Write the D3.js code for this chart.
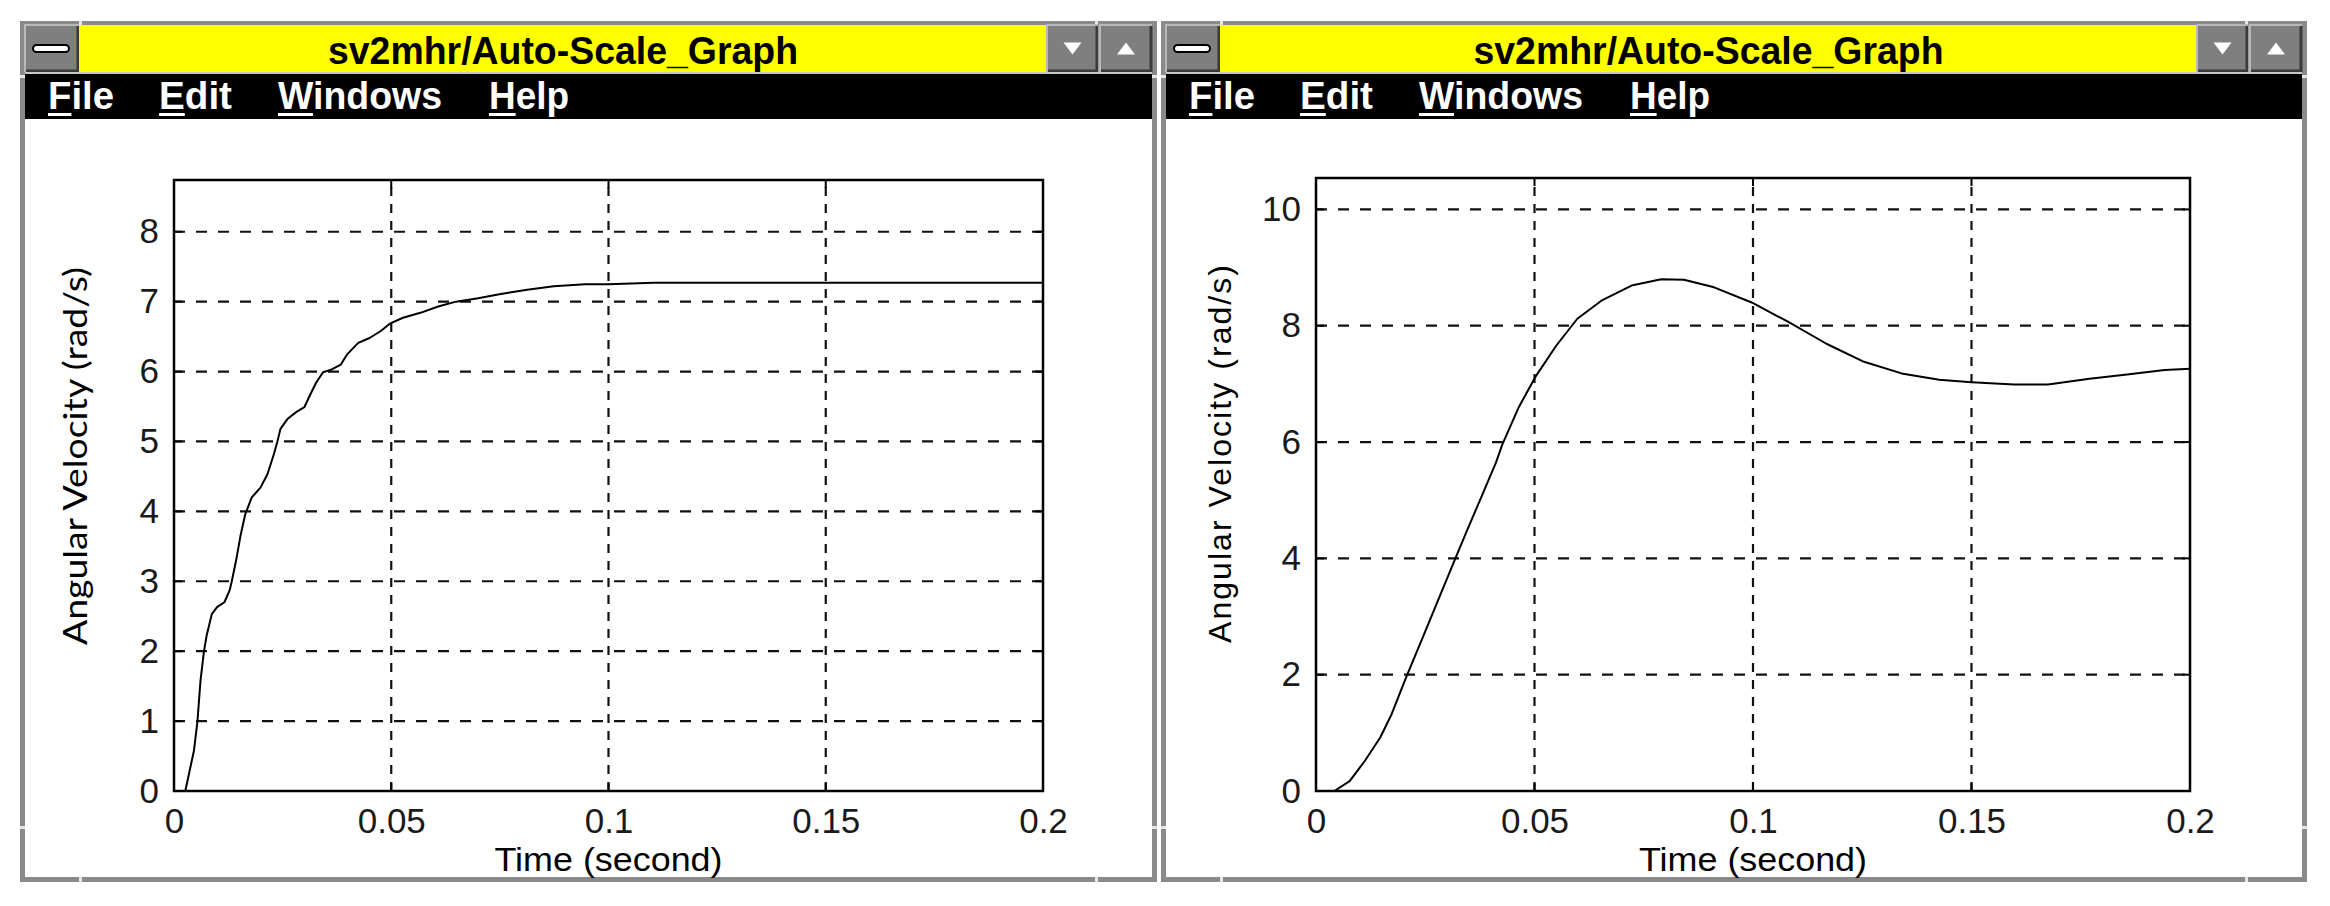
<!DOCTYPE html>
<html><head><meta charset="utf-8">
<script src="https://cdn.jsdelivr.net/npm/d3@7"></script>
<style>
html,body{margin:0;padding:0;background:#fff;}
svg{display:block;}
</style></head><body>
<svg id="c" width="2330" height="906"></svg>
<script>
// ---------- data ----------
const windowTitle = "sv2mhr/Auto-Scale_Graph";
const menuItems = ["File", "Edit", "Windows", "Help"];
const xTicks = [0, 0.05, 0.1, 0.15, 0.2];
const xTickLabels = ["0", "0.05", "0.1", "0.15", "0.2"];
const leftYTicks = [0, 1, 2, 3, 4, 5, 6, 7, 8];
const rightYTicks = [0, 2, 4, 6, 8, 10];
const xLabel = "Time (second)";
const yLabel = "Angular Velocity (rad/s)";

const leftTime = [0.0026, 0.0046, 0.0054, 0.0061, 0.0069, 0.0075, 0.0087, 0.0099, 0.0116, 0.0128,
  0.0133, 0.0143, 0.0153, 0.0164, 0.0179, 0.0199, 0.0215, 0.0230, 0.0238, 0.0245,
  0.0261, 0.0281, 0.0300, 0.0312, 0.0327, 0.0343, 0.0363, 0.0384, 0.0399, 0.0424,
  0.0450, 0.0476, 0.0498, 0.0527, 0.0567, 0.0608, 0.0649, 0.0700, 0.0752, 0.0813,
  0.0874, 0.0946, 0.1000, 0.1104, 0.1500, 0.2000];
const leftOmega = [0, 0.58, 1.0, 1.58, 2.0, 2.22, 2.53, 2.63, 2.70, 2.87,
  3.0, 3.3, 3.65, 3.96, 4.2, 4.34, 4.53, 4.82, 5.0, 5.18,
  5.32, 5.42, 5.49, 5.65, 5.84, 5.99, 6.03, 6.1, 6.25, 6.41,
  6.48, 6.58, 6.69, 6.77, 6.84, 6.93, 7.0, 7.05, 7.11, 7.17,
  7.22, 7.25, 7.25, 7.27, 7.27, 7.27];

const rightTime = [0.0042, 0.0077, 0.0112, 0.0147, 0.0173, 0.0206, 0.0241, 0.0275, 0.0309, 0.0344,
  0.0378, 0.0412, 0.0426, 0.0464, 0.0502, 0.0550, 0.0598, 0.0653, 0.0722, 0.0790,
  0.0842, 0.0911, 0.0997, 0.1082, 0.1168, 0.1254, 0.1340, 0.1426, 0.1500, 0.1598,
  0.1675, 0.1770, 0.1856, 0.1942, 0.2000];
const rightOmega = [0, 0.17, 0.52, 0.92, 1.32, 1.95, 2.58, 3.2, 3.82, 4.45,
  5.05, 5.65, 5.95, 6.6, 7.12, 7.66, 8.12, 8.43, 8.69, 8.8,
  8.79, 8.66, 8.4, 8.06, 7.69, 7.38, 7.18, 7.07, 7.03, 6.99,
  6.99, 7.09, 7.16, 7.24, 7.26];

// ---------- layout ----------
const panels = [
  { x0: 20, x1: 1157, plot: { l: 174, r: 1043, t: 180, b: 791 }, yMax: 8.74, yTicks: leftYTicks,
    t: leftTime, w: leftOmega, ylab: { x: 74, y: 456, font: "Lato", size: 33, len: 378, adjust: "spacingAndGlyphs" } },
  { x0: 1161, x1: 2307, plot: { l: 1316, r: 2190, t: 178, b: 791 }, yMax: 10.54, yTicks: rightYTicks,
    t: rightTime, w: rightOmega, ylab: { x: 1220, y: 454, font: "Liberation Sans", size: 32, len: 378, adjust: "spacing" } }
];
const menuOffsets = [28, 139, 258, 469];
const menuLens = [66, 73, 164, 80];
const TOP = 21, BOT = 882;

const svg = d3.select("#c");
svg.append("rect").attr("width", 2330).attr("height", 906).attr("fill", "#fff");

function drawButton(g, x, y, w, h) {
  g.append("rect").attr("x", x).attr("y", y).attr("width", w).attr("height", h).attr("fill", "#7f7f7f");
  g.append("path").attr("d", `M${x},${y + h}V${y}H${x + w}`).attr("fill", "none").attr("stroke", "#b8b8b8").attr("stroke-width", 2);
  g.append("path").attr("d", `M${x + 1},${y + h - 1}H${x + w - 1}V${y + 1}`).attr("fill", "none").attr("stroke", "#3a3a3a").attr("stroke-width", 3);
}

panels.forEach(p => {
  const g = svg.append("g");
  const x0 = p.x0, x1 = p.x1;
  // frame
  g.append("rect").attr("x", x0 + 2.5).attr("y", TOP + 2.5).attr("width", x1 - x0 - 5).attr("height", BOT - TOP - 5)
    .attr("fill", "#fff").attr("stroke", "#8a8a8a").attr("stroke-width", 5);
  const notch = [[x0 + 59, TOP, 3, 5], [x1 - 62, TOP, 3, 5], [x0 + 59, BOT - 5, 3, 5], [x1 - 62, BOT - 5, 3, 5],
    [x0, TOP + 54, 5, 3], [x1 - 5, TOP + 54, 5, 3], [x0, BOT - 56, 5, 3], [x1 - 5, BOT - 56, 5, 3]];
  g.selectAll(".notch").data(notch).join("rect").attr("class", "notch")
    .attr("x", d => d[0]).attr("y", d => d[1]).attr("width", d => d[2]).attr("height", d => d[3]).attr("fill", "#e6e6e6");

  // title bar
  const tbY = 25, tbH = 47;
  drawButton(g, x0 + 5, tbY, 54, tbH);
  g.append("rect").attr("x", x0 + 13).attr("y", tbY + 20).attr("width", 36).attr("height", 7).attr("rx", 3.5)
    .attr("fill", "#fff").attr("stroke", "#000").attr("stroke-width", 2);
  g.append("rect").attr("x", x0 + 59).attr("y", tbY).attr("width", (x1 - 110) - (x0 + 59)).attr("height", tbH).attr("fill", "#ffff00");
  drawButton(g, x1 - 110, tbY, 51, tbH);
  drawButton(g, x1 - 57, tbY, 52, tbH);
  const dcx = x1 - 110 + 25.5, ucx = x1 - 57 + 26, tcy = tbY + tbH / 2;
  g.append("path").attr("d", `M${dcx - 9},${tcy - 6}H${dcx + 9}L${dcx},${tcy + 6}Z`).attr("fill", "#fff");
  g.append("path").attr("d", `M${ucx - 9},${tcy + 6}H${ucx + 9}L${ucx},${tcy - 6}Z`).attr("fill", "#fff");
  const tcx = ((x0 + 59) + (x1 - 110)) / 2;
  g.append("text").attr("x", tcx).attr("y", 64).attr("text-anchor", "middle")
    .attr("font-family", "Liberation Sans, Arial, sans-serif").attr("font-weight", "bold").attr("font-size", 38)
    .attr("textLength", 470).attr("lengthAdjust", "spacingAndGlyphs").attr("fill", "#000").text(windowTitle);
  // separator + menu bar
  g.append("rect").attr("x", x0 + 5).attr("y", 72).attr("width", x1 - x0 - 10).attr("height", 2).attr("fill", "#c8c8c8");
  g.append("rect").attr("x", x0 + 5).attr("y", 74).attr("width", x1 - x0 - 10).attr("height", 45).attr("fill", "#000");
  menuItems.forEach((m, i) => {
    const mx = x0 + menuOffsets[i];
    const t = g.append("text").attr("x", mx).attr("y", 109)
      .attr("font-family", "Liberation Sans, Arial, sans-serif").attr("font-weight", "bold").attr("font-size", 38)
      .attr("textLength", menuLens[i]).attr("lengthAdjust", "spacingAndGlyphs").attr("fill", "#fff").text(m);
    let fw = menuLens[i] * 0.3;
    try { fw = t.node().getSubStringLength(0, 1); } catch (e) {}
    g.append("rect").attr("x", mx).attr("y", 113).attr("width", fw).attr("height", 3).attr("fill", "#fff");
  });

  // ---------- chart ----------
  const x = d3.scaleLinear().domain([0, 0.2]).range([p.plot.l, p.plot.r]);
  const y = d3.scaleLinear().domain([0, p.yMax]).range([p.plot.b, p.plot.t]);

  g.selectAll(".hg").data(p.yTicks.filter(v => v > 0)).join("line").attr("class", "hg")
    .attr("x1", p.plot.l).attr("x2", p.plot.r).attr("y1", d => y(d)).attr("y2", d => y(d))
    .attr("stroke", "#111").attr("stroke-width", 2.2).attr("stroke-dasharray", "11,11");
  g.selectAll(".vg").data(xTicks.filter(v => v > 0 && v < 0.2)).join("line").attr("class", "vg")
    .attr("x1", d => x(d)).attr("x2", d => x(d)).attr("y1", p.plot.b).attr("y2", p.plot.t)
    .attr("stroke", "#111").attr("stroke-width", 2.2).attr("stroke-dasharray", "9,8");

  const tk = 8;
  g.selectAll(".tyl").data(p.yTicks).join("line").attr("class", "tyl")
    .attr("x1", p.plot.l).attr("x2", p.plot.l + tk).attr("y1", d => y(d)).attr("y2", d => y(d)).attr("stroke", "#000").attr("stroke-width", 2);
  g.selectAll(".tyr").data(p.yTicks).join("line").attr("class", "tyr")
    .attr("x1", p.plot.r).attr("x2", p.plot.r - tk).attr("y1", d => y(d)).attr("y2", d => y(d)).attr("stroke", "#000").attr("stroke-width", 2);
  g.selectAll(".txb").data(xTicks).join("line").attr("class", "txb")
    .attr("x1", d => x(d)).attr("x2", d => x(d)).attr("y1", p.plot.b).attr("y2", p.plot.b - tk).attr("stroke", "#000").attr("stroke-width", 2);
  g.selectAll(".txt").data(xTicks).join("line").attr("class", "txt")
    .attr("x1", d => x(d)).attr("x2", d => x(d)).attr("y1", p.plot.t).attr("y2", p.plot.t + tk).attr("stroke", "#000").attr("stroke-width", 2);

  const axB = d3.axisBottom(x).tickValues(xTicks).tickFormat((d, i) => xTickLabels[i]).tickSize(0).tickPadding(17);
  const gb = g.append("g").attr("transform", `translate(0,${p.plot.b})`).call(axB);
  gb.select(".domain").remove();
  const axL = d3.axisLeft(y).tickValues(p.yTicks).tickFormat(d => String(d)).tickSize(0).tickPadding(15);
  const gl = g.append("g").attr("transform", `translate(${p.plot.l},0)`).call(axL);
  gl.select(".domain").remove();
  [gb, gl].forEach(a => a.attr("font-family", "Liberation Sans, Arial, sans-serif").attr("font-size", 35)
    .selectAll("text").attr("fill", "#1a1a1a"));

  const pts = p.t.map((t, i) => [t, p.w[i]]);
  g.append("path").datum(pts).attr("fill", "none").attr("stroke", "#000").attr("stroke-width", 2)
    .attr("stroke-linejoin", "round")
    .attr("d", d3.line().x(d => x(d[0])).y(d => y(d[1])));

  g.append("rect").attr("x", p.plot.l).attr("y", p.plot.t).attr("width", p.plot.r - p.plot.l).attr("height", p.plot.b - p.plot.t)
    .attr("fill", "none").attr("stroke", "#000").attr("stroke-width", 2.5);

  g.append("text").attr("x", (p.plot.l + p.plot.r) / 2).attr("y", 871).attr("text-anchor", "middle")
    .attr("font-family", "Liberation Sans, Arial, sans-serif").attr("font-size", 33)
    .attr("textLength", 228).attr("lengthAdjust", "spacingAndGlyphs").attr("fill", "#000").text(xLabel);
  g.append("text").attr("transform", `translate(${p.ylab.x},${p.ylab.y}) rotate(-90)`).attr("text-anchor", "middle")
    .attr("dominant-baseline", "central")
    .attr("font-family", p.ylab.font + ", sans-serif").attr("font-size", p.ylab.size)
    .attr("textLength", p.ylab.len).attr("lengthAdjust", p.ylab.adjust).attr("fill", "#000").text(yLabel);
});
</script>
</body></html>
